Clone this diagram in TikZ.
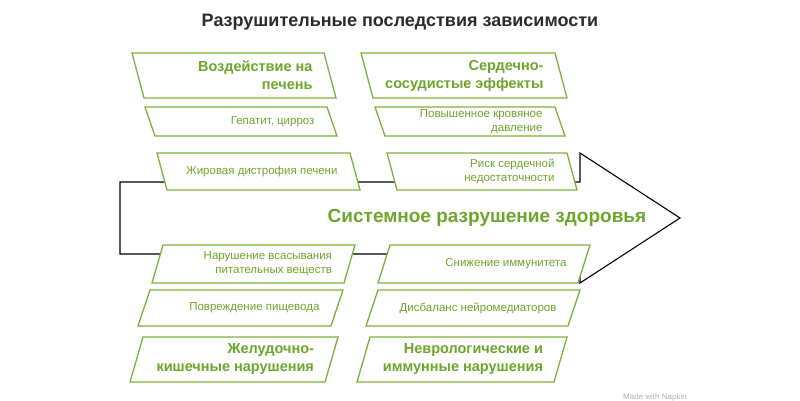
\documentclass[tikz,border=0pt]{standalone}
\usepackage{fontspec}
\setmainfont{Liberation Sans}
\definecolor{napgreen}{HTML}{6DA62A}
\definecolor{napline}{HTML}{7DB23A}
\definecolor{titlegray}{HTML}{2B2B2B}
\tikzset{
  slantbox/.style={draw=napline, line width=1.3pt, fill=white},
  smalltext/.style={text=napgreen, font=\fontsize{11.5}{14}\selectfont, align=right, anchor=east},
  headtext/.style={text=napgreen, font=\fontsize{14.5}{18}\selectfont\bfseries, align=right, anchor=east}
}
% #1 name, #2 top left x, #3 top right x, #4 top y, #5 bottom y, #6 bottom shift, #7 style, #8 text
\newcommand{\slantnode}[8]{%
  \draw[slantbox] (#2,#4) -- (#3,#4) -- ({#3+#6},#5) -- ({#2+#6},#5) -- cycle;
  \node[#7] (#1) at ({#3+#6/2-14},{(#4+#5)/2}) {#8};
}
\begin{document}
\begin{tikzpicture}[x=1pt,y=-1pt]
  \useasboundingbox (0,0) rectangle (800,400);
  \node[text=titlegray, font=\fontsize{18}{21}\selectfont\bfseries] (title) at (400,22) {Разрушительные последствия зависимости};
  % spine arrow
  \draw[line width=1.1pt, line join=miter] (120,182) -- (580,182) -- (580,153) -- (680,218) -- (580,283) -- (580,254) -- (120,254) -- cycle;
  \node[text=napgreen, font=\fontsize{19}{22}\selectfont\bfseries] (spine) at (487,218) {Системное разрушение здоровья};
  % upper left
  \slantnode{liver}{132}{324}{53}{98}{12}{headtext}{Воздействие на\\печень}
  \slantnode{hepat}{145}{327}{107}{136}{10}{smalltext}{Гепатит, цирроз}
  \slantnode{fatty}{157}{350}{153}{190}{10}{smalltext}{Жировая дистрофия печени}
  % upper right
  \slantnode{heart}{361}{555}{53}{98}{12}{headtext}{Сердечно-\\сосудистые эффекты}
  \slantnode{press}{375}{555}{107}{136}{10}{smalltext}{Повышенное кровяное\\давление}
  \slantnode{fail}{387}{567}{153}{190}{10}{smalltext}{Риск сердечной\\недостаточности}
  % lower left
  \slantnode{absorb}{163}{355}{245}{283}{-11}{smalltext}{Нарушение всасывания\\питательных веществ}
  \slantnode{esoph}{150}{343}{290}{326}{-12}{smalltext}{Повреждение пищевода}
  \slantnode{gastro}{143}{338}{337}{382}{-13}{headtext}{Желудочно-\\кишечные нарушения}
  % lower right
  \slantnode{immun}{390}{590}{245}{283}{-12}{smalltext}{Снижение иммунитета}
  \slantnode{neurot}{378}{580}{290}{326}{-12}{smalltext}{Дисбаланс нейромедиаторов}
  \slantnode{neuro}{370}{567}{337}{382}{-13}{headtext}{Неврологические и\\иммунные нарушения}
  \node[text=gray!60, font=\fontsize{8}{9}\selectfont] (made) at (655,397) {Made with Napkin};
\end{tikzpicture}
\end{document}
